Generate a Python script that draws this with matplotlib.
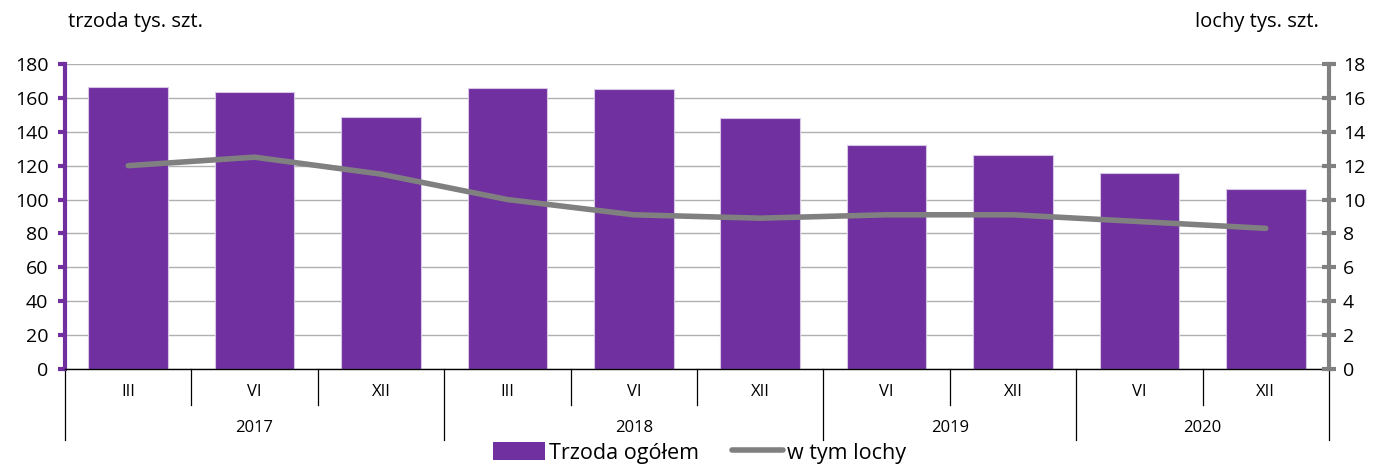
import numpy as np
import matplotlib.pyplot as plt
from matplotlib.patches import Patch
from matplotlib.lines import Line2D

plt.rcParams['font.family'] = ['Open Sans', 'DejaVu Sans']

# data
months = ['III', 'VI', 'XII', 'III', 'VI', 'XII', 'VI', 'XII', 'VI', 'XII']
years = ['2017', '2018', '2019', '2020']
year_sizes = [3, 3, 2, 2]
trzoda = [166.5, 163.5, 148.5, 166.0, 165.3, 148.2, 132.3, 126.3, 115.8, 106.3]
lochy = [12.0, 12.5, 11.5, 10.0, 9.1, 8.9, 9.1, 9.1, 8.7, 8.3]

purple = '#7030A0'
grey = '#808080'

fig = plt.figure(figsize=(13.75, 4.66), dpi=100)
ax = fig.add_axes([0.0473, 0.2082, 0.9192, 0.6545])
x = np.arange(len(months))

ax.bar(x, trzoda, width=0.63, color=purple, edgecolor='#d8c6e6', linewidth=0.8, zorder=2)
ax.set_xlim(-0.5, len(months) - 0.5)
ax.set_ylim(0, 180)
ax.set_yticks(np.arange(0, 181, 20))
ax.yaxis.grid(True, color='#b0b0b0', linewidth=1.0, zorder=0)
ax.set_axisbelow(True)

# left axis styling
for s in ['top', 'right']:
    ax.spines[s].set_visible(False)
ax.spines['left'].set_color(purple)
ax.spines['left'].set_linewidth(3)
ax.spines['bottom'].set_color('black')
ax.spines['bottom'].set_linewidth(1)
ax.tick_params(axis='y', colors=purple, length=5, width=3, labelsize=14, labelcolor='black', pad=7)

# category labels
ax.set_xticks(x)
ax.set_xticklabels(months)
ax.tick_params(axis='x', length=0, labelsize=12, pad=11)

# separators for multi-level axis
trans = ax.get_xaxis_transform()
bounds = np.cumsum([0] + year_sizes)
for i in range(len(months) + 1):
    xb = i - 0.5
    bottom = -0.233 if i in bounds else -0.118
    ax.plot([xb, xb], [0, bottom], color='black', lw=0.9, transform=trans, clip_on=False)
for yr, start, size in zip(years, bounds[:-1], year_sizes):
    ax.text(start - 0.5 + size / 2, -0.193, yr, transform=trans, ha='center', va='center', fontsize=12)

# right axis: line
ax2 = ax.twinx()
ax2.plot(x, lochy, color=grey, lw=4, solid_capstyle='round', solid_joinstyle='round', zorder=3)
ax2.set_ylim(0, 18)
ax2.set_yticks(np.arange(0, 19, 2))
for s in ['top', 'left', 'bottom']:
    ax2.spines[s].set_visible(False)
ax2.spines['right'].set_color(grey)
ax2.spines['right'].set_linewidth(3)
ax2.tick_params(axis='y', colors=grey, direction='inout', length=10, width=3, labelsize=14, labelcolor='black', pad=5)

fig.text(0.0495, 0.952, 'trzoda tys. szt.', fontsize=14.5, ha='left', va='center')
fig.text(0.959, 0.952, 'lochy tys. szt.', fontsize=14.5, ha='right', va='center')

handles = [Patch(facecolor=purple, edgecolor='none'),
           Line2D([0], [0], color=grey, lw=4, solid_capstyle='round')]
fig.legend(handles, ['Trzoda ogółem', 'w tym lochy'], loc='center',
           bbox_to_anchor=(0.509, 0.028), ncol=2, frameon=False, fontsize=15.5,
           handlelength=2.4, handleheight=0.9, handletextpad=0.2, columnspacing=1.5,
           borderpad=0)

fig.savefig('out.png', dpi=100)
